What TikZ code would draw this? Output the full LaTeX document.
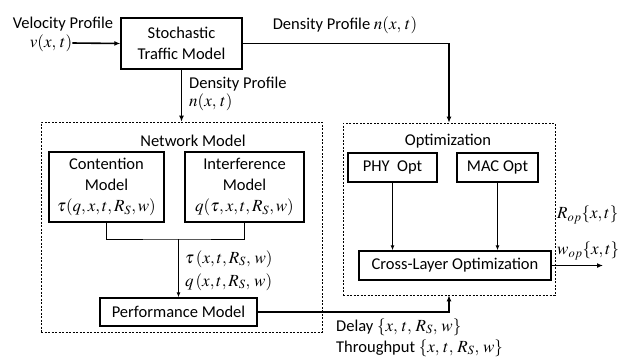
\documentclass[tikz,border=0pt]{standalone}
\usepackage{amsmath}
\usepackage{mathptmx}
\usepackage{fontspec}
\setmainfont{Carlito}
\usetikzlibrary{arrows, arrows.meta}
\usetikzlibrary{calc}

\newcommand{\mth}[1]{{\fontsize{17}{21}\selectfont$#1$}}

\tikzset{
  blockbox/.style={draw, line width=1.4pt, align=center, inner sep=1pt},
  groupbox/.style={draw, dashed, dash pattern=on 2pt off 1.5pt, line width=0.6pt},
  txt/.style={inner sep=0pt, align=left},
  thickarrow/.style={line width=1.6pt, -{Latex[length=6pt, width=5pt]}},
  thinarrow/.style={line width=0.9pt, -{Latex[length=5pt, width=4pt]}},
  thinline/.style={line width=0.9pt},
}

\begin{document}
\begin{tikzpicture}[x=1pt, y=-1pt, font=\fontsize{16.5}{21}\selectfont]
    \useasboundingbox (0,0) rectangle (622,360);

    % group frames
    \node[groupbox, minimum width=281pt, minimum height=210pt] (net) at (181.5,227) {};
    \node[groupbox, minimum width=212pt, minimum height=172pt] (opt) at (449,209) {};
    \node[txt] (nettitle) at (193,141) {Network Model};
    \node[txt] (opttitle) at (448,141) {Optimization};

    % blocks
    \node[blockbox, minimum width=121pt, minimum height=51pt] (stm) at (181.5,43.5) {Stochastic\\Traffic Model};
    \node[blockbox, minimum width=115pt, minimum height=70pt] (cont) at (106.5,187) {Contention\\Model\\\mth{\tau(q,x,t,R_S,w)}};
    \node[blockbox, minimum width=119pt, minimum height=70pt] (intf) at (244.5,187) {Interference\\Model\\\mth{q(\tau,x,t,R_S,w)}};
    \node[blockbox, minimum width=157pt, minimum height=28pt] (perf) at (178.5,312) {Performance Model};
    \node[blockbox, minimum width=89pt, minimum height=29pt] (phy) at (392.5,167.5) {PHY\ \ Opt};
    \node[blockbox, minimum width=81pt, minimum height=29pt] (mac) at (497.5,167.5) {MAC Opt};
    \node[blockbox, minimum width=192pt, minimum height=29pt] (cross) at (455,265.5) {Cross-Layer Optimization};

    % labels
    \node[txt] (vlab) at (63,24) {Velocity Profile};
    \node[txt] (vin) at (51,43) {\mth{v(x,\,t)}};
    \node[txt, anchor=west] (dlab) at (189,84) {Density Profile};
    \node[txt, anchor=west] (dval) at (189,102) {\mth{n(x,\,t)}};
    \node[txt] (dlab2) at (345,25) {Density Profile \mth{n(x,\,t)}};
    \node[txt, anchor=west] (taulab) at (185,259) {\mth{\tau\,(x,t,R_S,\,w)}};
    \node[txt, anchor=west] (qlab) at (185,282) {\mth{q\,(x,t,R_S,\,w)}};
    \node[txt, anchor=west] (rlab) at (557,215) {\mth{R_{op}\{x,t\}}};
    \node[txt, anchor=west] (wlab) at (557,251) {\mth{w_{op}\{x,t\}}};
    \node[txt, anchor=west] (dellab) at (336,327) {Delay \mth{\{x,\,t,\,R_S,\,w\}}};
    \node[txt, anchor=west] (thrlab) at (336,348) {Throughput \mth{\{x,\,t,\,R_S,\,w\}}};
    \coordinate (out) at (603,265.5);
    \coordinate (join) at (178.5,239);

    % connectors
    \draw[thickarrow] (vin.east) -- (stm.west);
    \draw[thickarrow] (stm.south) -- (stm.south |- net.north);
    \draw[thickarrow] (stm.east) -| (opt.north);
    \draw[thinline] (cont.south) |- (join) -| (intf.south);
    \draw[thinarrow] (join) -- (perf.north);
    \draw[thickarrow] (perf.east) -| (opt.south);
    \draw[thinarrow] (phy.south) -- (phy.south |- cross.north);
    \draw[thinarrow] (mac.south) -- (mac.south |- cross.north);
    \draw[thickarrow] (cross.east) -- (out);
\end{tikzpicture}
\end{document}
